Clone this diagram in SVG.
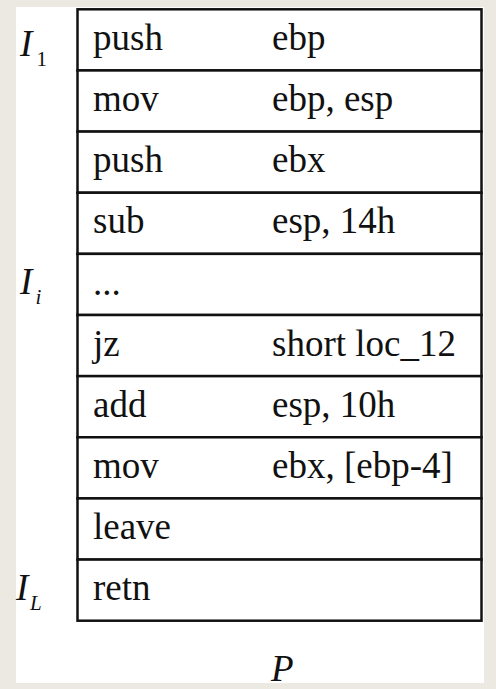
<svg xmlns="http://www.w3.org/2000/svg" width="496" height="689" viewBox="0 0 496 689">
<style>
.bg{fill:#ECE8E2}
.paper{fill:#FFFFFF}
.cell{fill:#FFFFFF;stroke:#111111;stroke-width:2.5}
text{fill:#111111;font-family:"Liberation Serif","Times New Roman",serif}
.t{font-size:37px}
.it{font-style:italic}
.big{font-size:37px}
.sub{font-size:21px}
</style>
<rect class="bg" x="0" y="0" width="496" height="689"/>
<rect class="paper" x="16" y="7" width="468" height="676"/>
<g id="instructions">
<g id="row1"><rect class="cell" x="77.5" y="9.3" width="404" height="61.14"/><text class="t" x="93" y="50">push</text><text class="t" x="272" y="50">ebp</text></g>
<g id="row2"><rect class="cell" x="77.5" y="70.44" width="404" height="61.14"/><text class="t" x="93" y="111.1">mov</text><text class="t" x="272" y="111.1">ebp, esp</text></g>
<g id="row3"><rect class="cell" x="77.5" y="131.58" width="404" height="61.14"/><text class="t" x="93" y="172.3">push</text><text class="t" x="272" y="172.3">ebx</text></g>
<g id="row4"><rect class="cell" x="77.5" y="192.72" width="404" height="61.14"/><text class="t" x="93" y="233.4">sub</text><text class="t" x="272" y="233.4">esp, 14h</text></g>
<g id="row5"><rect class="cell" x="77.5" y="253.86" width="404" height="61.14"/><text class="t" x="93" y="294.6">...</text></g>
<g id="row6"><rect class="cell" x="77.5" y="315" width="404" height="61.14"/><text class="t" x="93" y="355.7">jz</text><text class="t" x="272" y="355.7">short loc_12</text></g>
<g id="row7"><rect class="cell" x="77.5" y="376.14" width="404" height="61.14"/><text class="t" x="93" y="416.8">add</text><text class="t" x="272" y="416.8">esp, 10h</text></g>
<g id="row8"><rect class="cell" x="77.5" y="437.28" width="404" height="61.14"/><text class="t" x="93" y="478">mov</text><text class="t" x="272" y="478">ebx, [ebp-4]</text></g>
<g id="row9"><rect class="cell" x="77.5" y="498.42" width="404" height="61.14"/><text class="t" x="93" y="539.1">leave</text></g>
<g id="row10"><rect class="cell" x="77.5" y="559.56" width="404" height="61.14"/><text class="t" x="93" y="600.3">retn</text></g>
</g>
<g id="labels">
<g id="label-I1"><text class="it big" x="20" y="55.5">I</text><text class="sub" x="36.5" y="65.5">1</text></g>
<g id="label-Ii"><text class="it big" x="20" y="294">I</text><text class="it sub" x="35.5" y="304">i</text></g>
<g id="label-IL"><text class="it big" x="16" y="599.5">I</text><text class="it sub" x="30" y="610">L</text></g>
<g id="label-P"><text class="it big" x="271" y="681">P</text></g>
</g>
</svg>
